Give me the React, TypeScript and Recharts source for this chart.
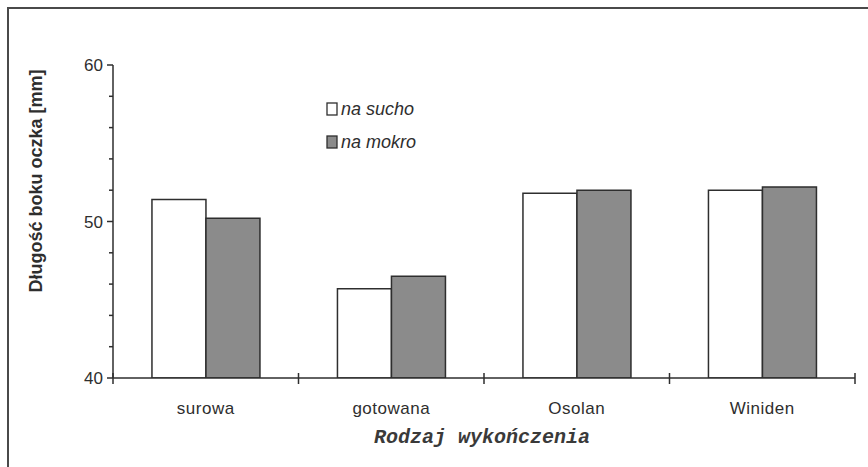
import React from 'react';
import { BarChart, Bar, XAxis, YAxis, Legend, Label } from 'recharts';

const categories = ['surowa', 'gotowana', 'Osolan', 'Winiden'];
const naSucho = [51.4, 45.7, 51.8, 52.0];
const naMokro = [50.2, 46.5, 52.0, 52.2];
const seriesNames = ['na sucho', 'na mokro'];
const yTicks = [40, 42, 44, 46, 48, 50, 52, 54, 56, 58, 60];
const yLabelTicks = [40, 50, 60];
const boundaryTicks = [0, 1, 2, 3, 4];
const yTitle = 'Długość boku oczka [mm]';
const xTitle = 'Rodzaj wykończenia';

const data = categories.map((c, i) => ({ name: c, pos: i + 0.5, sucho: naSucho[i], mokro: naMokro[i] }));

const INK = '#2e2e2e';
const SANS = '"Liberation Sans", Arial, sans-serif';

const YTick = (props: any) => {
  const { x, y, payload } = props;
  const major = yLabelTicks.includes(payload.value);
  return (
    <g>
      <line x1={x - (major ? 6 : 4)} x2={x} y1={y} y2={y} stroke={INK} strokeWidth={1.5} />
      {major && (
        <text x={x - 10} y={y} dy={6} textAnchor="end" fontFamily={SANS} fontSize={17} fill={INK}>
          {payload.value}
        </text>
      )}
    </g>
  );
};

const BoundaryTick = (props: any) => {
  const { x, y } = props;
  return <line x1={x} x2={x} y1={y - 5} y2={y + 6} stroke={INK} strokeWidth={1.5} />;
};

const CatTick = (props: any) => {
  const { x, y, payload } = props;
  return (
    <text x={x} y={y + 35} textAnchor="middle" fontFamily={SANS} fontSize={17} letterSpacing={0.5} fill={INK}>
      {payload.value}
    </text>
  );
};

const LegendContent = (props: any) => {
  const { payload } = props;
  const entries = [...(payload || [])].sort(
    (a: any, b: any) => seriesNames.indexOf(a.value) - seriesNames.indexOf(b.value)
  );
  return (
    <svg width={130} height={60} style={{ overflow: 'visible' }}>
      {entries.map((entry: any, i: number) => (
        <g key={i} transform={`translate(0, ${i * 33})`}>
          <rect x={1} y={1} width={10} height={12} fill={entry.color} stroke={INK} strokeWidth={1.3} />
          <text x={15} y={13} fontFamily={SANS} fontStyle="italic" fontSize={18} fill={INK}>
            {entry.value}
          </text>
        </g>
      ))}
    </svg>
  );
};

export default function App() {
  return (
    <div style={{ position: 'absolute', left: 0, top: 0, width: 868, height: 467, background: '#fff', overflow: 'hidden' }}>
      <div
        style={{
          position: 'absolute',
          left: 7,
          top: 7,
          width: 868,
          height: 467,
          borderTop: '2px solid #4a4a4a',
          borderLeft: '2px solid #4a4a4a',
        }}
      />
      <div style={{ position: 'absolute', left: 0, top: 0 }}>
        <BarChart
          width={868}
          height={467}
          data={data}
          margin={{ top: 65, right: 13, bottom: 48, left: 53 }}
          barCategoryGap="21%"
          barGap={0}
        >
          <XAxis
            xAxisId="b"
            type="number"
            dataKey="pos"
            domain={[0, 4]}
            allowDataOverflow
            ticks={boundaryTicks}
            height={1}
            axisLine={{ stroke: INK, strokeWidth: 1.5 }}
            tickLine={false}
            tickSize={0}
            tickMargin={0}
            tick={<BoundaryTick />}
            interval={0}
          />
          <XAxis
            xAxisId="cat"
            dataKey="name"
            height={40}
            axisLine={false}
            tickLine={false}
            tickSize={0}
            tickMargin={0}
            tick={<CatTick />}
            interval={0}
          >
            <Label
              content={() => (
                <text
                  x={482}
                  y={443}
                  textAnchor="middle"
                  fontFamily='"Liberation Mono", "Courier New", monospace'
                  fontStyle="italic"
                  fontWeight="bold"
                  fontSize={20}
                  fill="#3a3a3a"
                >
                  {xTitle}
                </text>
              )}
            />
          </XAxis>
          <YAxis
            width={60}
            domain={[40, 60]}
            ticks={yTicks}
            interval={0}
            allowDataOverflow
            axisLine={{ stroke: INK, strokeWidth: 1.5 }}
            tickLine={false}
            tickSize={0}
            tickMargin={0}
            tick={<YTick />}
          >
            <Label
              content={() => (
                <text
                  x={42}
                  y={181}
                  transform="rotate(-90 42 181)"
                  textAnchor="middle"
                  fontFamily={SANS}
                  fontWeight="bold"
                  fontSize={18}
                  fill={INK}
                >
                  {yTitle}
                </text>
              )}
            />
          </YAxis>
          <Legend
            layout="vertical"
            align="center"
            verticalAlign="middle"
            wrapperStyle={{ left: 326, top: 102, width: 130, height: 60 }}
            content={<LegendContent />}
          />
          <Bar
            xAxisId="cat"
            dataKey="sucho"
            name={seriesNames[0]}
            fill="#ffffff"
            stroke={INK}
            strokeWidth={1.5}
            isAnimationActive={false}
          />
          <Bar
            xAxisId="cat"
            dataKey="mokro"
            name={seriesNames[1]}
            fill="#8b8b8b"
            stroke={INK}
            strokeWidth={1.5}
            isAnimationActive={false}
          />
        </BarChart>
      </div>
    </div>
  );
}
